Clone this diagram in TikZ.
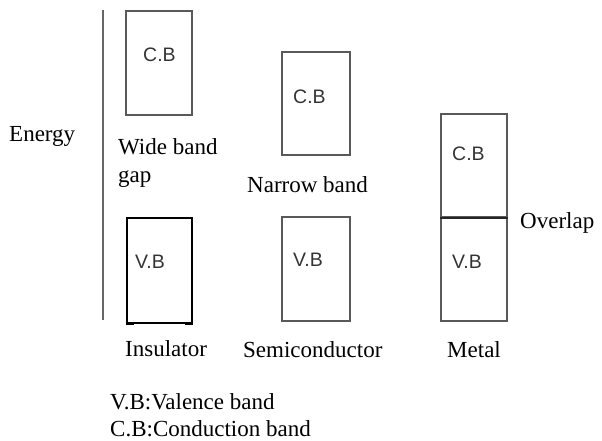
\documentclass[tikz,border=0pt]{standalone}
\usepackage{fontspec}
\setmainfont{Liberation Serif}
\setsansfont{Liberation Sans}
\usetikzlibrary{positioning}

\begin{document}
\begin{tikzpicture}[x=1pt, y=-1pt,
    band/.style={draw=black!65, line width=1.6pt, minimum width=66pt, minimum height=104pt, inner sep=0pt},
    bandtxt/.style={anchor=base west, inner sep=0pt, font=\sffamily\fontsize{19.5}{22}\selectfont, text=black!80},
    lbl/.style={anchor=base west, inner sep=0pt, font=\fontsize{23}{28}\selectfont},
]
    \useasboundingbox (0,0) rectangle (602,441);

    % energy axis
    \coordinate (etop) at (103,10);
    \coordinate (ebot) at (103,320);
    \draw[line width=2pt, black!60] (etop) -- (ebot);
    \node[lbl] (energy) at (9,142) {Energy};

    % insulator
    \node[band] (insCB) at (159,63) {};
    \node[band, draw=black, line width=1.2pt, minimum width=65pt, minimum height=105pt] (insVB) at (159.5,270.5) {};
    \draw[line width=3pt] (insVB.south west) -- ++(8,0);
    \draw[line width=3pt] (insVB.south east) -- ++(-8,0);
    \node[bandtxt] (insCBt) at (143,62) {C.B};
    \node[bandtxt] (insVBt) at (135,268) {V.B};
    \node[lbl, anchor=north west, align=left] (wide) at (118,138) {Wide band\\gap};
    \node[lbl] (ins) at (125,356) {Insulator};

    % semiconductor
    \node[band, minimum width=68pt, minimum height=103pt] (semCB) at (316,103.5) {};
    \node[band, minimum width=68pt] (semVB) at (316,269) {};
    \node[bandtxt] (semCBt) at (293,104) {C.B};
    \node[bandtxt] (semVBt) at (293,266) {V.B};
    \node[lbl] (narrow) at (247,192) {Narrow band};
    \node[lbl] (sem) at (243,357) {Semiconductor};

    % metal
    \node[band, minimum height=103pt] (metCB) at (474,165.5) {};
    \node[band] (metVB) at (474,269) {};
    \draw[line width=2.2pt, black!85] (metCB.south west) -- (metCB.south east);
    \node[bandtxt] (metCBt) at (452,160) {C.B};
    \node[bandtxt] (metVBt) at (452,268) {V.B};
    \node[lbl] (overlap) at (520,228) {Overlap};
    \node[lbl] (met) at (447,357) {Metal};

    % legend
    \node[lbl, anchor=north west, align=left, font=\fontsize{23}{27}\selectfont] (legend) at (110,393) {V.B:Valence band\\C.B:Conduction band};
\end{tikzpicture}
\end{document}
